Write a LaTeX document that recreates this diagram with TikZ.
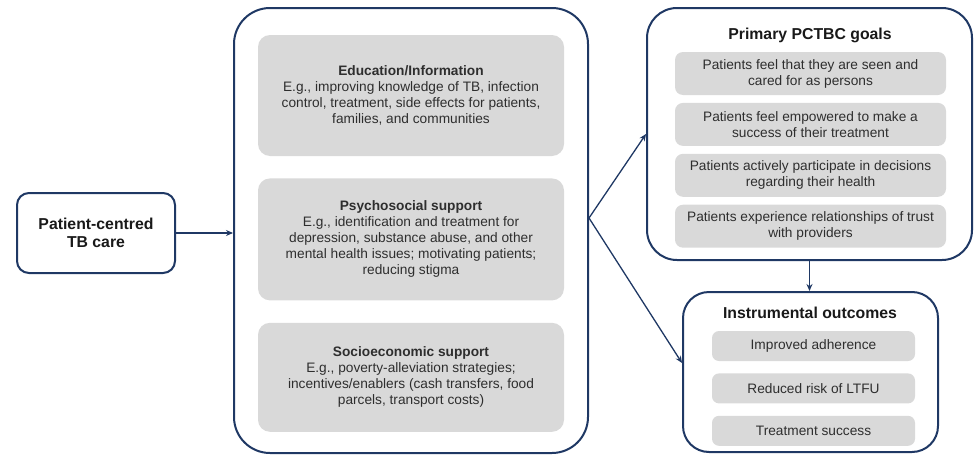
\documentclass[tikz,border=0pt]{standalone}
\usepackage{fontspec}
\setmainfont{Liberation Sans}
\usepackage{xcolor}
\usetikzlibrary{arrows.meta, positioning}

\definecolor{navy}{HTML}{1F3864}
\definecolor{boxgray}{HTML}{D9D9D9}
\definecolor{inktext}{HTML}{2E2E2E}

\begin{document}
\begin{tikzpicture}[x=1pt, y=-1pt, font=\fontsize{13.7}{16}\selectfont, text=inktext,
    outer/.style={draw=navy, line width=2pt, rounded corners=#1, align=center},
    outer/.default=14pt,
    item/.style={fill=boxgray, rounded corners=#1, align=center, inner sep=0pt},
    item/.default=12pt,
    head/.style={font=\fontsize{15.8}{18}\selectfont\bfseries, text=black!90},
    link/.style={-{Stealth[length=7pt, width=6pt]}, draw=navy, line width=1.3pt}]

    \useasboundingbox (0,0) rectangle (977,455);

    % left: starting point
    \node[outer=12pt, head, minimum width=158pt, minimum height=80pt] (pctbc) at (96,233) {Patient-centred\\TB care};

    % middle: the three kinds of support
    \node[outer=36pt, minimum width=354pt, minimum height=445pt] (interv) at (411,230.5) {};
    \node[item, minimum width=306pt, minimum height=121pt] (edu) at (411,95.5)
        {\textbf{Education/Information}\\E.g., improving knowledge of TB, infection\\control, treatment, side effects for patients,\\families, and communities};
    \node[item, minimum width=306pt, minimum height=122pt, below=22pt of edu] (psy)
        {\textbf{Psychosocial support}\\E.g., identification and treatment for\\depression, substance abuse, and other\\mental health issues; motivating patients;\\reducing stigma};
    \node[item, minimum width=306pt, minimum height=109pt, below=22pt of psy] (socio)
        {\textbf{Socioeconomic support}\\E.g., poverty-alleviation strategies;\\incentives/enablers (cash transfers, food\\parcels, transport costs)};

    % right top: goals
    \node[outer=30pt, minimum width=325pt, minimum height=252pt] (goals) at (809.5,134) {};
    \node[head] (goalstitle) at (810,35) {Primary PCTBC goals};
    \node[item=8pt, minimum width=271pt, minimum height=43pt] (g1) at (810.5,73.5) {Patients feel that they are seen and\\cared for as persons};
    \node[item=8pt, minimum width=271pt, minimum height=43pt, below=7.5pt of g1] (g2) {Patients feel empowered to make a\\success of their treatment};
    \node[item=8pt, minimum width=271pt, minimum height=43pt, below=7.5pt of g2] (g3) {Patients actively participate in decisions\\regarding their health};
    \node[item=8pt, minimum width=271pt, minimum height=43pt, below=7.5pt of g3] (g4) {Patients experience relationships of trust\\with providers};

    % right bottom: outcomes
    \node[outer=26pt, minimum width=255pt, minimum height=160pt] (outc) at (810.5,372) {};
    \node[head] (outctitle) at (810,313) {Instrumental outcomes};
    \node[item=7pt, minimum width=203pt, minimum height=30pt] (o1) at (813.5,346) {Improved adherence};
    \node[item=7pt, minimum width=203pt, minimum height=30pt, below=12pt of o1] (o2) {Reduced risk of LTFU};
    \node[item=7pt, minimum width=203pt, minimum height=30pt, below=12pt of o2] (o3) {Treatment success};

    \coordinate (split) at ([yshift=12.5pt]interv.east);

    \draw[link] (pctbc.east) -- (pctbc.east -| interv.west);
    \draw[link] (split) -- (goals.west);
    \draw[link] (split) -- ([yshift=9pt]outc.west);
    \draw[link] (goals.south) -- (goals.south |- outc.north);

\end{tikzpicture}
\end{document}
